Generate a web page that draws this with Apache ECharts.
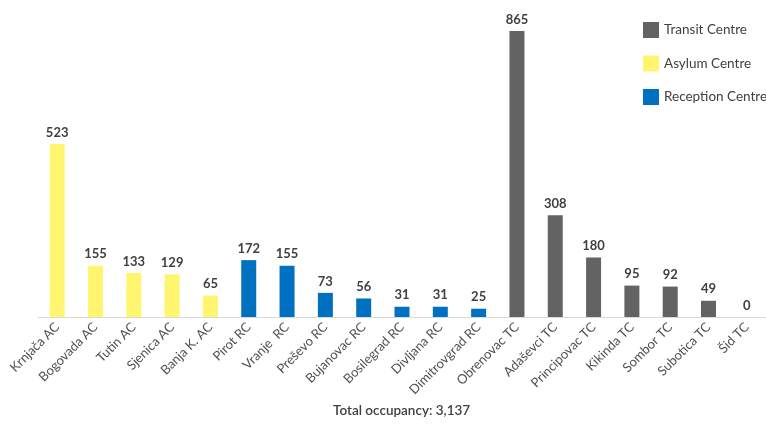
<!DOCTYPE html>
<html><head><meta charset="utf-8">
<script src="https://cdn.jsdelivr.net/npm/echarts@6/dist/echarts.min.js"></script>
<style>html,body{margin:0;padding:0;background:#fff}#c{width:766px;height:425px}</style>
</head><body><div id="c"></div>
<script>
var categories = ["Krnjača AC","Bogovada AC","Tutin AC","Sjenica AC","Banja K. AC","Pirot RC","Vranje  RC","Preševo RC","Bujanovac RC","Bosilegrad RC","Divljana RC","Dimitrovgrad RC","Obrenovac TC","Adaševci TC","Principovac TC","Kikinda TC","Sombor TC","Subotica TC","Šid TC"];
var asylum    = [523,155,133,129,65,null,null,null,null,null,null,null,null,null,null,null,null,null,null];
var reception = [null,null,null,null,null,172,155,73,56,31,31,25,null,null,null,null,null,null,null];
var transit   = [null,null,null,null,null,null,null,null,null,null,null,null,865,308,180,95,92,49,0];
var totalText = "Total occupancy: 3,137";

var chart = echarts.init(document.getElementById('c'));
var lbl = {show:true, position:'top', distance:5, color:'#404040', fontFamily:'Lato', fontWeight:'bold', fontSize:13};
function ser(name, data, color){
  return {name:name, type:'bar', data:data, barWidth:15, barGap:'-100%', itemStyle:{color:color}, label:lbl, animation:false};
}
chart.setOption({
  animation:false,
  grid:{left:38, right:-7, top:31, bottom:108, containLabel:false},
  legend:{orient:'vertical', left:638, top:17, itemWidth:16, itemHeight:16, itemGap:17.5,
    data:['Transit Centre','Asylum Centre','Reception Centre'],
    textStyle:{color:'#404040', fontFamily:'Lato', fontSize:13.5}, icon:'rect'},
  xAxis:{type:'category', data:categories,
    axisLine:{lineStyle:{color:'#d9d9d9'}}, axisTick:{show:false},
    axisLabel:{rotate:45, interval:0, color:'#505050', fontFamily:'Lato', fontSize:13, margin:8}},
  yAxis:{type:'value', min:0, max:865, show:false, splitLine:{show:false}},
  graphic:[{type:'text', left:333, top:404, style:{text:totalText, fill:'#404040', font:'600 13.5px Lato'}}],
  series:[ser('Asylum Centre', asylum, '#FFF56E'), ser('Reception Centre', reception, '#0070C0'), ser('Transit Centre', transit, '#636363')]
});
</script></body></html>
